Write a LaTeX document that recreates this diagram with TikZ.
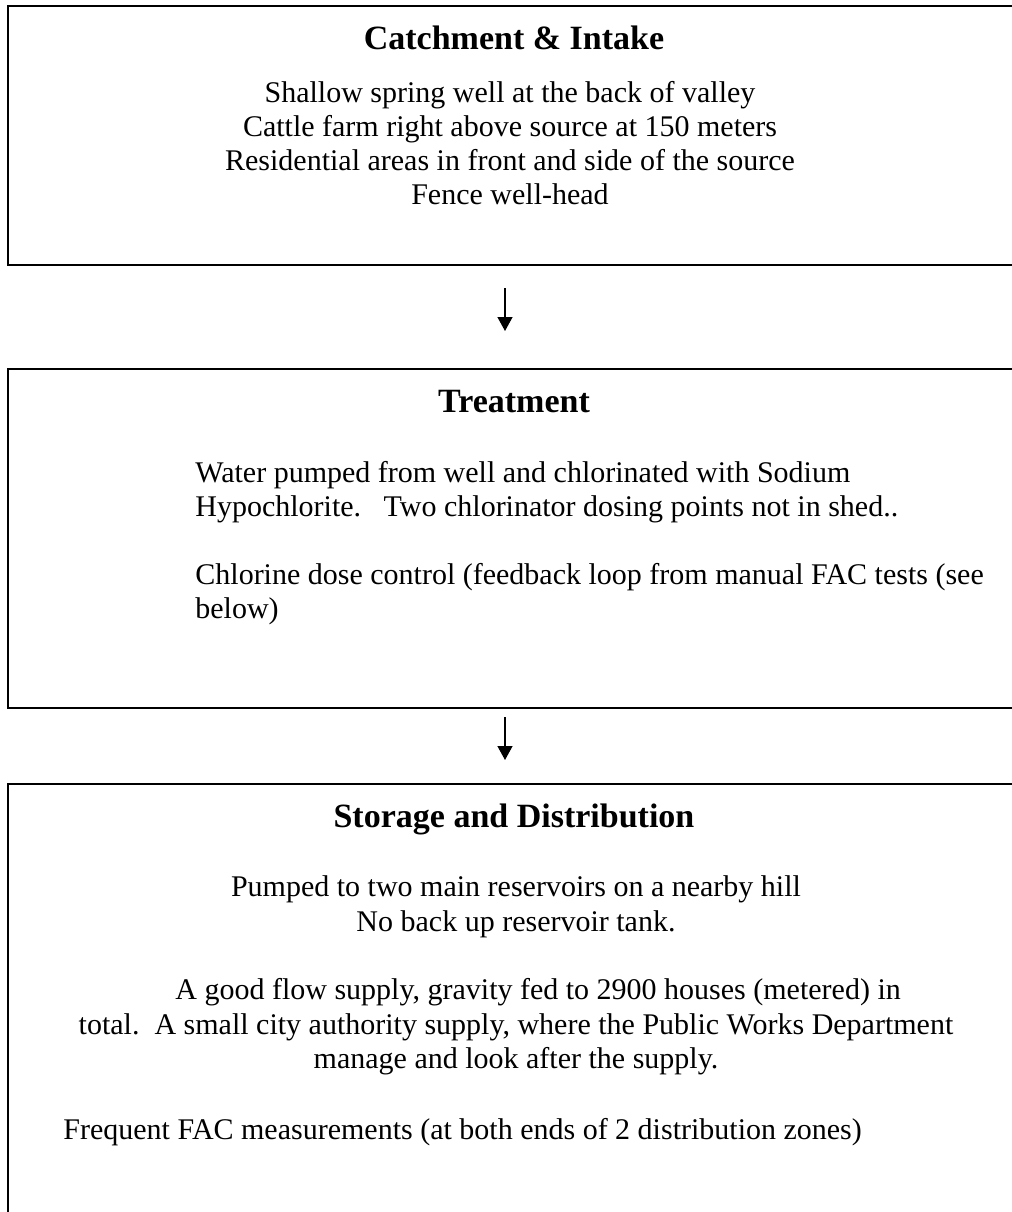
\documentclass[tikz,border=0pt]{standalone}
\usepackage{fontspec}
\setmainfont{Liberation Serif}
\usetikzlibrary{arrows.meta}
\tikzset{
stage/.style={ % frame round each stage
draw,
line width=1pt,
inner sep=0pt,
minimum width=506pt},
title/.style={font=\fontsize{17}{20}\selectfont\bfseries, anchor=base, inner sep=0pt},
line/.style={font=\fontsize{15}{17.25}\selectfont, anchor=base, inner sep=0pt},
lline/.style={line, anchor=base west},
flow/.style={ % arrow between stages
-{Triangle[width=7.5pt,length=7pt]},
line width=0.65pt}}

\begin{document}
\begin{tikzpicture}[x=0.5pt,y=-0.5pt]
\useasboundingbox (0,0) rectangle (1012,1212);
\clip (0,0) rectangle (1012,1212);
\node[stage, minimum height=129.5pt] (catch) at (514,135.5) {};
\node[stage, minimum height=169.5pt] (treat) at (514,538.5) {};
\node[stage, minimum height=223pt] (store) at (514,1007) {};
\coordinate (mid) at (505,0);

% Catchment
\node[title] (catchT) at (514,49) {Catchment \& Intake};
\node[line] (catch1) at (510,102) {Shallow spring well at the back of valley};
\node[line] (catch2) at (510,136) {Cattle farm right above source at 150 meters};
\node[line] (catch3) at (510,170) {Residential areas in front and side of the source};
\node[line] (catch4) at (510,204) {Fence well-head};

% Treatment
\node[title] (treatT) at (514,412) {Treatment};
\node[lline] (treat1) at (195,482) {Water pumped from well and chlorinated with Sodium};
\node[lline] (treat2) at (195,516) {Hypochlorite.\ \ \ Two chlorinator dosing points not in shed..};
\node[lline] (treat3) at (195,584) {Chlorine dose control (feedback loop from manual FAC tests (see};
\node[lline] (treat4) at (195,618) {below)};

% Storage
\node[title] (storeT) at (514,827) {Storage and Distribution};
\node[line] (store1) at (516,896) {Pumped to two main reservoirs on a nearby hill};
\node[line] (store2) at (516,931) {No back up reservoir tank.};
\node[lline] (store3) at (175,999) {A good flow supply, gravity fed to 2900 houses (metered) in};
\node[line] (store4) at (516,1034) {total.\ \ A small city authority supply, where the Public Works Department};
\node[line] (store5) at (516,1068) {manage and look after the supply.};
\node[lline] (store6) at (63,1139) {Frequent FAC measurements (at both ends of 2 distribution zones)};

\draw[flow, shorten <=11pt, shorten >=18.5pt] (catch.south -| mid) -- (treat.north -| mid);
\draw[flow, shorten <=4pt, shorten >=11.5pt] (treat.south -| mid) -- (store.north -| mid);
\end{tikzpicture}
\end{document}
